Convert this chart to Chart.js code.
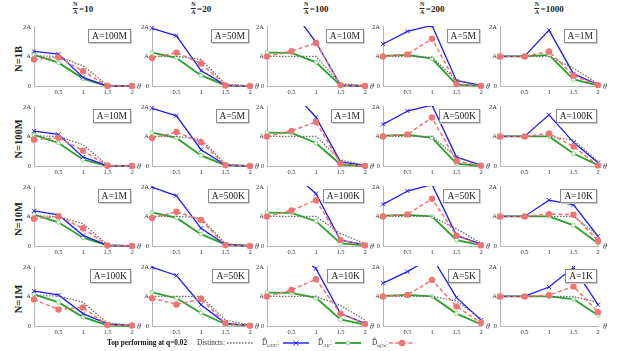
<!DOCTYPE html>
<html>
<head>
<meta charset="utf-8">
<script src="https://cdn.jsdelivr.net/npm/chart.js@4.4.1/dist/chart.umd.min.js"></script>
<style>
  body { margin: 0; width: 619px; height: 351px; background: #fff; position: relative; overflow: hidden;
         font-family: "Liberation Serif", "DejaVu Serif", serif; color: #222; }
  .panel { position: absolute; }
  .panel canvas { display: block; }
  .head { position: absolute; top: 2px; font-weight: bold; font-size: 9px; display: flex; align-items: center; transform: translateX(-50%); white-space: nowrap; }
  .frac { display: inline-flex; flex-direction: column; align-items: center; font-size: 6px; line-height: 5.5px; margin-right: 1px; }
  .frac span:first-child { border-bottom: 0.8px solid #222; padding: 0 0.5px 0.5px; }
  .frac span:last-child { padding-top: 0.5px; }
  .rowlab { position: absolute; left: 18px; font-weight: bold; font-size: 10.5px; white-space: nowrap; transform: translate(-50%, -50%) rotate(-90deg); }
  .box { position: absolute; font-size: 9.5px; line-height: 12px; padding: 0 3px; border: 1.3px solid #8a8a8a; background: #fff;
         box-shadow: 1px 1px 0 #d0d0d0; white-space: nowrap; }
  .theta { position: absolute; font-size: 8px; font-style: italic; color: #333; line-height: 9px; }
  .leg { position: absolute; top: 338px; font-size: 7.3px; line-height: 10px; white-space: nowrap; color: #333; }
  .leg sub { font-size: 5px; }
  .key { position: absolute; top: 339px; }
  .key svg { display: block; }
</style>
</head>
<body>
<script>
// theta positions on the x axis
const thetas = [0, 0.5, 1, 1.5, 2];

const colHeads = ['10', '20', '100', '200', '1000'];
const rowLabels = ['N=1B', 'N=100M', 'N=10M', 'N=1M'];
const sizeLabels = [
  ['A=100M', 'A=50M', 'A=10M', 'A=5M', 'A=1M'],
  ['A=10M', 'A=5M', 'A=1M', 'A=500K', 'A=100K'],
  ['A=1M', 'A=500K', 'A=100K', 'A=50K', 'A=10K'],
  ['A=100K', 'A=50K', 'A=10K', 'A=5K', 'A=1K']
];
const yTickText = ['0', 'A', '2A'];

// values in units of A, one row of 5 per panel (row-major: N=1B .. N=1M, N/A=10 .. 1000)
const distincts = [
  [1.02, 1, 0.68, 0.03, 0], [1, 1, 0.9, 0.06, 0], [1, 1, 1, 0.08, 0.02], [1, 1, 0.97, 0.2, 0.02], [1, 1, 1, 0.6, 0.08],
  [1.02, 1, 0.72, 0.03, 0], [1, 1, 0.9, 0.07, 0], [1, 1, 1, 0.2, 0.03], [1, 1, 1, 0.3, 0.03], [1, 1, 1, 0.87, 0.16],
  [1.02, 1, 0.75, 0.05, 0], [1, 1, 0.95, 0.07, 0.02], [1, 1, 1, 0.42, 0.08], [1, 1, 1, 0.58, 0.1], [1, 1, 1, 1, 0.36],
  [1.02, 1.02, 0.8, 0.1, 0.03], [1, 1, 1, 0.2, 0.03], [1, 1, 1, 0.7, 0.2], [1, 1, 1, 0.85, 0.25], [1, 1, 1, 1, 0.8]
];
const gee = [
  [1.17, 1.08, 0.29, 0, 0], [1.95, 1.7, 0.52, 0.02, 0], [2.9, 2.6, 1.48, 0.03, 0], [1.42, 1.85, 2.05, 0.18, 0.02], [1, 1, 1.89, 0.41, 0.05],
  [1.18, 1.07, 0.3, 0.01, 0], [1.95, 1.7, 0.55, 0.03, 0], [2.9, 2.55, 1.65, 0.14, 0.02], [1.41, 1.86, 2.06, 0.3, 0.03], [1, 1, 1.73, 0.8, 0.11],
  [1.19, 1.05, 0.36, 0.02, 0], [1.99, 1.7, 0.6, 0.05, 0], [2.9, 2.5, 1.77, 0.2, 0.04], [1.41, 1.86, 2.08, 0.36, 0.06], [1, 1, 1.55, 1.39, 0.33],
  [1.18, 1.05, 0.42, 0.07, 0.02], [1.99, 1.71, 0.72, 0.09, 0.02], [2.9, 2.55, 1.94, 0.42, 0.09], [1.45, 1.84, 2.33, 0.96, 0.2], [1, 1, 1.32, 1.98, 0.72]
];
const ae = [
  [1.05, 0.79, 0.25, 0, 0], [1.13, 0.95, 0.36, 0.02, 0], [1.13, 1.12, 0.8, 0.02, 0], [1.02, 1.05, 0.93, 0.05, 0], [1, 1, 1.05, 0.22, 0.02],
  [1.05, 0.78, 0.22, 0, 0], [1.13, 0.95, 0.36, 0.02, 0], [1.13, 1.12, 0.78, 0.05, 0], [1.03, 1.05, 0.95, 0.08, 0], [1, 1, 1, 0.42, 0.03],
  [1.06, 0.8, 0.28, 0.02, 0], [1.14, 0.95, 0.4, 0.05, 0], [1.13, 1.12, 0.84, 0.09, 0.02], [1.03, 1.05, 1, 0.2, 0.03], [1, 1, 1, 0.7, 0.09],
  [1.07, 0.8, 0.3, 0.02, 0], [1.14, 0.94, 0.44, 0.06, 0.01], [1.13, 1.12, 0.95, 0.22, 0.05], [1.02, 1.05, 1, 0.42, 0.06], [1, 1, 1, 0.91, 0.36]
];
const uj2a = [
  [0.9, 0.97, 0.5, 0, 0], [0.95, 1.13, 0.76, 0.02, 0], [1, 1.18, 1.45, 0.03, 0], [1, 1.07, 1.6, 0.07, 0], [1, 1, 1.17, 0.35, 0.03],
  [0.89, 0.96, 0.52, 0.01, 0], [0.95, 1.15, 0.8, 0.03, 0], [1, 1.19, 1.49, 0.08, 0], [1, 1.07, 1.64, 0.17, 0.01], [1, 1, 1.1, 0.66, 0.02],
  [0.92, 1, 0.6, 0.02, 0], [0.95, 1.16, 0.88, 0.03, 0], [1, 1.2, 1.55, 0.2, 0.02], [1, 1.07, 1.6, 0.35, 0.02], [1, 1, 1.08, 1.06, 0.17],
  [0.9, 0.56, 0.63, 0.03, 0.02], [0.94, 0.73, 0.92, 0.09, 0.01], [1, 1.22, 1.58, 0.42, 0.07], [1, 1.05, 1.56, 0.66, 0.11], [1, 1, 1.04, 1.34, 0.47]
];

// page layout of the plot areas
const plotLeft = [34, 152, 267, 383, 500];
const plotTop = [25, 105, 185, 265];
const plotW = 98, plotH = 61;
const padL = 24, padT = 5, padR = 12, padB = 13;

const BLUE = '#1c1cf5', GREEN = '#27a327', PINK = '#f07474', GRAY = '#6e6e6e';
const tickFont = { family: '"Liberation Serif", serif', size: 6.5 };

function pts(vals) {
  return thetas.map((t, k) => ({ x: t, y: vals[k] }));
}

function makePanel(r, c) {
  const i = r * 5 + c;
  const wrap = document.createElement('div');
  wrap.className = 'panel';
  wrap.style.left = (plotLeft[c] - padL) + 'px';
  wrap.style.top = (plotTop[r] - padT) + 'px';
  const cv = document.createElement('canvas');
  cv.width = padL + plotW + padR;
  cv.height = padT + plotH + padB;
  wrap.appendChild(cv);
  document.body.appendChild(wrap);

  const clip = { left: 6, right: 6, top: 1, bottom: 6 };
  new Chart(cv, {
    type: 'line',
    data: {
      datasets: [
        { label: 'uj2a', data: pts(uj2a[i]), order: 0, clip, borderColor: PINK, borderWidth: 1.5, borderDash: [4, 2.5],
          pointStyle: 'circle', pointRadius: 3.2, pointBackgroundColor: PINK, pointBorderWidth: 0 },
        { label: 'Distincts', data: pts(distincts[i]), order: 1, clip, borderColor: GRAY, borderWidth: 1.3, borderDash: [1.5, 1.5],
          pointRadius: 0 },
        { label: 'GEE', data: pts(gee[i]), order: 2, clip, borderColor: BLUE, borderWidth: 1.3,
          pointStyle: 'crossRot', pointRadius: 3, pointBorderColor: BLUE, pointBorderWidth: 0.9 },
        { label: 'AE', data: pts(ae[i]), order: 3, clip, borderColor: GREEN, borderWidth: 1.8,
          pointStyle: 'circle', pointRadius: 2, pointBackgroundColor: '#fff', pointBorderColor: '#86d486', pointBorderWidth: 1 }
      ]
    },
    options: {
      responsive: false,
      animation: false,
      layout: { padding: { left: 0, top: padT, right: padR, bottom: 0 } },
      plugins: { legend: { display: false }, tooltip: { enabled: false } },
      scales: {
        x: {
          type: 'linear', min: 0, max: 2,
          grid: { display: false, drawTicks: false },
          border: { color: '#b5b5b5', width: 1 },
          ticks: { stepSize: 0.5, padding: 2, maxRotation: 0, autoSkip: false, font: tickFont, color: '#333',
                   callback: v => v === 0 ? '' : String(v) },
          afterFit: s => { s.height = padB; }
        },
        y: {
          min: 0, max: 2,
          grid: { display: false, drawTicks: false },
          border: { color: '#b5b5b5', width: 1 },
          ticks: { stepSize: 1, padding: 3, font: tickFont, color: '#333', callback: v => yTickText[v] },
          afterFit: s => { s.width = padL; }
        }
      }
    }
  });

  const box = document.createElement('div');
  box.className = 'box';
  box.textContent = sizeLabels[r][c];
  box.style.right = (619 - (plotLeft[c] + plotW - 1)) + 'px';
  box.style.top = (plotTop[r] + 4) + 'px';
  document.body.appendChild(box);

  const th = document.createElement('div');
  th.className = 'theta';
  th.textContent = 'θ';
  th.style.left = (plotLeft[c] + plotW + 5) + 'px';
  th.style.top = (plotTop[r] + plotH - 4) + 'px';
  document.body.appendChild(th);
}

colHeads.forEach((h, c) => {
  const d = document.createElement('div');
  d.className = 'head';
  d.style.left = (plotLeft[c] + plotW / 2) + 'px';
  d.innerHTML = '<span class="frac"><span>N</span><span>A</span></span><span>=' + h + '</span>';
  document.body.appendChild(d);
});

rowLabels.forEach((t, r) => {
  const d = document.createElement('div');
  d.className = 'rowlab';
  d.textContent = t;
  d.style.top = (plotTop[r] + plotH / 2 + 3) + 'px';
  document.body.appendChild(d);
});

for (let r = 0; r < 4; r++) {
  for (let c = 0; c < 5; c++) makePanel(r, c);
}

// legend row
function legText(x, html, bold) {
  const d = document.createElement('div');
  d.className = 'leg';
  d.style.left = x + 'px';
  if (bold) { d.style.fontWeight = 'bold'; d.style.color = '#111'; }
  d.innerHTML = html;
  document.body.appendChild(d);
}
function legKey(x, svgInner) {
  const d = document.createElement('div');
  d.className = 'key';
  d.style.left = x + 'px';
  d.innerHTML = '<svg width="26" height="8" xmlns="http://www.w3.org/2000/svg">' + svgInner + '</svg>';
  document.body.appendChild(d);
}
legText(107, 'Top performing at q=0.02', true);
legText(197, 'Distincts:');
legKey(227, '<line x1="0" y1="4" x2="26" y2="4" stroke="' + GRAY + '" stroke-width="1.3" stroke-dasharray="1.5 1.5"/>');
legText(262, 'D&#770;<sub>GEE</sub>:');
legKey(283, '<line x1="0" y1="4" x2="26" y2="4" stroke="' + BLUE + '" stroke-width="1.4"/>' +
  '<path d="M10.5 1.5 L15.5 6.5 M15.5 1.5 L10.5 6.5" stroke="' + BLUE + '" stroke-width="0.9"/>');
legText(318, 'D&#770;<sub>AE</sub>:');
legKey(335, '<line x1="0" y1="4" x2="26" y2="4" stroke="' + GREEN + '" stroke-width="1.8"/>' +
  '<circle cx="13" cy="4" r="2" fill="#fff" stroke="#86d486" stroke-width="1"/>');
legText(372, 'D&#770;<sub>uj2a</sub>:');
legKey(389, '<line x1="0" y1="4" x2="26" y2="4" stroke="' + PINK + '" stroke-width="1.5" stroke-dasharray="4 2.5"/>' +
  '<circle cx="13" cy="4" r="3.2" fill="' + PINK + '"/>');
</script>
</body>
</html>
